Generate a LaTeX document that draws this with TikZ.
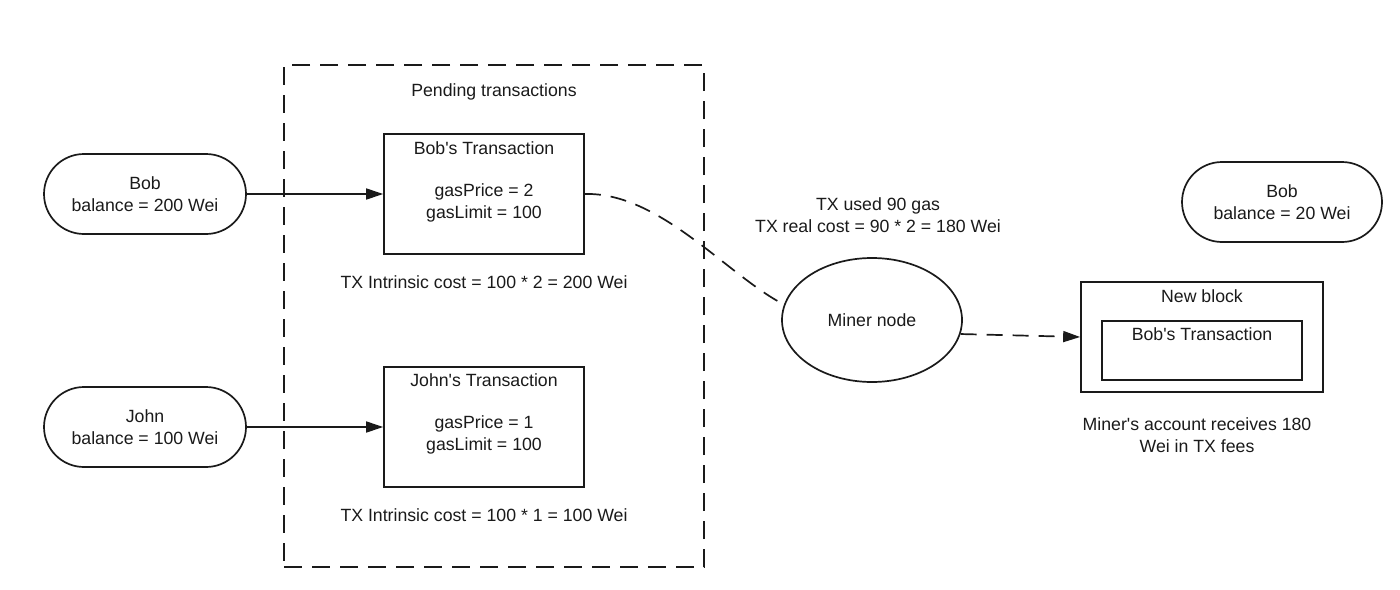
\documentclass[tikz,border=0pt]{standalone}
\usepackage{fontspec}
\setmainfont{Liberation Sans}[Ligatures=TeXOff]
\usetikzlibrary{arrows.meta,shapes.geometric}
\definecolor{ink}{HTML}{1A1A1A}
\begin{document}
\begin{tikzpicture}[x=1pt,y=-1pt,
  every node/.style={font=\fontsize{17.7}{22}\selectfont, align=center, inner sep=0pt, text=ink},
  lw/.style={line width=1.7pt, draw=ink},
  account/.style={lw, draw, rounded corners=40pt, minimum width=202pt, minimum height=80pt},
  txbox/.style={lw, draw, minimum width=200pt, minimum height=120pt},
  pooldash/.style={lw, dash pattern=on 18pt off 10pt},
  linkdash/.style={lw, dash pattern=on 16pt off 10pt},
  tip/.style={-{Triangle[length=17pt,width=11pt]}}
]
\useasboundingbox (0,0) rectangle (1400,589);

% pool of pending transactions
\node[draw, pooldash, minimum width=420pt, minimum height=502pt] (pool) at (494,316) {};
\node (pooltitle) at (494,92) {Pending transactions};

% sender accounts
\node[account] (bob) at (145,194) {Bob\\balance = 200 Wei};
\node[account] (john) at (145,427) {John\\balance = 100 Wei};

% transactions in the pool
\node[txbox] (btx) at (484,194) {};
\node (btxtitle) at (484,148) {Bob's Transaction};
\node (btxparams) at (484,203) {gasPrice = 2\\gasLimit = 100};
\node (btxcost) at (484,282) {TX Intrinsic cost = 100 * 2 = 200 Wei};

\node[txbox] (jtx) at (484,427) {};
\node (jtxtitle) at (484,380) {John's Transaction};
\node (jtxparams) at (484,435) {gasPrice = 1\\gasLimit = 100};
\node (jtxcost) at (484,515) {TX Intrinsic cost = 100 * 1 = 100 Wei};

% miner
\node[ellipse, lw, draw, minimum width=180pt, minimum height=124pt] (miner) at (872,320) {Miner node};
\node (used) at (878,215) {TX used 90 gas\\TX real cost = 90 * 2 = 180 Wei};

% new block
\node[lw, draw, minimum width=242pt, minimum height=110pt] (block) at (1202,337) {};
\node (blocktitle) at (1202,296) {New block};
\node[lw, draw, minimum width=200pt, minimum height=59pt] (inner) at (1202,350.5) {};
\node (innertitle) at (1202,334) {Bob's Transaction};
\node (fees) at (1197,435) {Miner's account receives 180\\Wei in TX fees};

% sender after execution
\node[account, minimum width=200pt] (bob2) at (1282,202) {Bob\\balance = 20 Wei};

% connectors
\draw[lw, tip] (bob.east) -- (btx.west);
\draw[lw, tip] (john.east) -- (jtx.west);
\draw[linkdash] (btx.east) .. controls (660,192) and (728,276) .. (miner.170);
\draw[linkdash, tip] (miner.-9) -- (block.west);
\end{tikzpicture}
\end{document}
